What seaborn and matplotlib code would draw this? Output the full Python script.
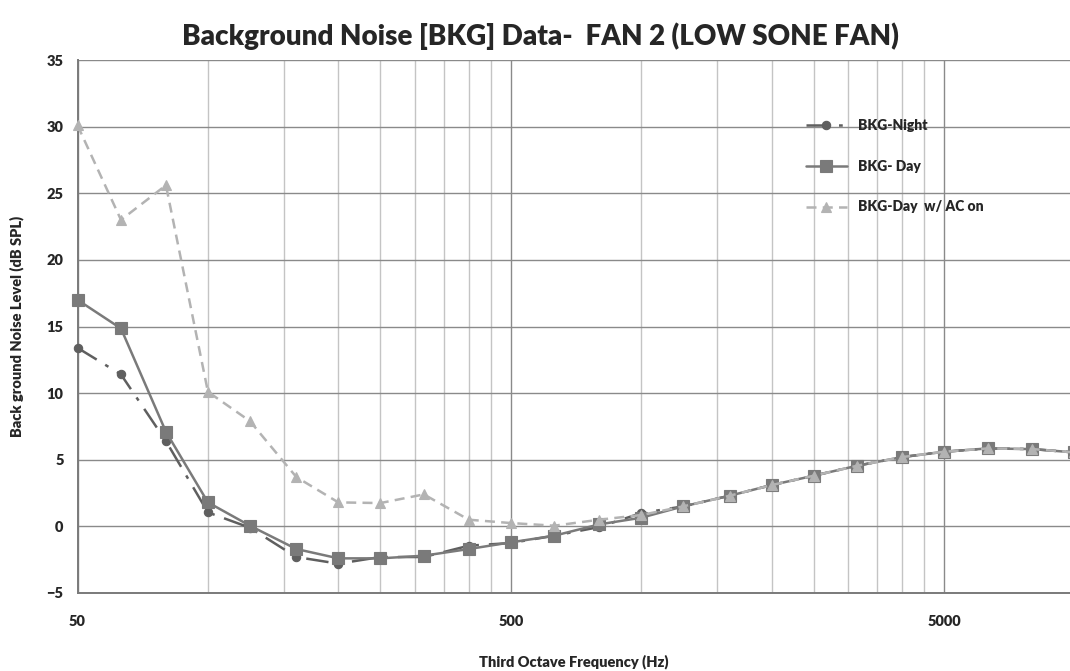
import numpy as np
import pandas as pd
import matplotlib
matplotlib.use("Agg")
import matplotlib.pyplot as plt
from matplotlib.ticker import FixedLocator, NullFormatter
import seaborn as sns

# Third-octave band centre frequencies (Hz)
freq = [50, 63, 80, 100, 125, 160, 200, 250, 315, 400, 500, 630, 800,
        1000, 1250, 1600, 2000, 2500, 3150, 4000, 5000, 6300, 8000, 10000]

# Background noise levels (dB SPL)
bkg_night = [13.4, 11.4, 6.4, 1.05, -0.1, -2.3, -2.8, -2.3, -2.3, -1.45, -1.25,
             -0.7, -0.05, 1.0, 1.5, 2.3, 3.1, 3.8, 4.55, 5.2, 5.6, 5.85, 5.8, 5.55]
bkg_day = [17.0, 14.85, 7.1, 1.8, 0.05, -1.7, -2.4, -2.4, -2.2, -1.7, -1.2,
           -0.7, 0.15, 0.65, 1.5, 2.3, 3.1, 3.8, 4.55, 5.2, 5.6, 5.85, 5.8, 5.55]
bkg_day_ac = [30.1, 23.0, 25.6, 10.1, 7.9, 3.7, 1.8, 1.75, 2.4, 0.5, 0.25,
              0.05, 0.5, 0.85, 1.5, 2.3, 3.1, 3.8, 4.55, 5.2, 5.6, 5.85, 5.8, 5.55]

series_names = ["BKG-Night", "BKG- Day", "BKG-Day  w/ AC on"]

df = pd.DataFrame({
    "freq": freq * 3,
    "level": bkg_night + bkg_day + bkg_day_ac,
    "series": np.repeat(series_names, len(freq)),
})

sns.set_style("white")
plt.rcParams["font.family"] = ["Lato", "DejaVu Sans"]
plt.rcParams["font.weight"] = "bold"

fig = plt.figure(figsize=(10.70, 6.71), dpi=100)
ax = fig.add_axes([77.5 / 1070, 1 - 593 / 671, 1 - 77.5 / 1070, (593 - 60) / 671])

styles = {
    "BKG-Night": dict(color="#5f5f5f", marker="o", ms=6, ls=(0, (9, 4, 1.5, 4)), lw=1.8),
    "BKG- Day": dict(color="#7a7a7a", marker="s", ms=8, ls="-", lw=1.8),
    "BKG-Day  w/ AC on": dict(color="#b3b3b3", marker="^", ms=6.5, ls=(0, (4, 2.5)), lw=1.8),
}

for name in series_names:
    st = styles[name]
    sub = df[df["series"] == name]
    sns.lineplot(data=sub, x="freq", y="level", ax=ax, label=name,
                 color=st["color"], marker=st["marker"], markersize=st["ms"],
                 linestyle=st["ls"], linewidth=st["lw"],
                 markeredgecolor=st["color"], markeredgewidth=0.8,
                 estimator=None, clip_on=False, zorder=3)

ax.set_xscale("log")
ax.set_xlim(50, 9765)
ax.set_ylim(-5, 35)

major_x = [50, 500, 5000]
minor_x = [m * k for m in (50, 500) for k in range(2, 10)]
ax.xaxis.set_major_locator(FixedLocator(major_x))
ax.xaxis.set_minor_locator(FixedLocator(minor_x))
ax.set_xticklabels([str(v) for v in major_x])
ax.xaxis.set_minor_formatter(NullFormatter())
ax.set_yticks(np.arange(-5, 36, 5))

ax.grid(True, which="major", axis="y", color="#8a8a8a", lw=1.0)
ax.grid(True, which="major", axis="x", color="#8a8a8a", lw=1.0)
ax.grid(True, which="minor", axis="x", color="#c4c4c4", lw=1.0)
ax.set_axisbelow(True)

for side in ("top", "right"):
    ax.spines[side].set_visible(False)
for side in ("left", "bottom"):
    ax.spines[side].set_color("#7a7a7a")
    ax.spines[side].set_linewidth(1.4)

ax.tick_params(axis="both", which="major", labelsize=10.5, length=4,
               color="#868686", width=1.0, direction="out")
ax.tick_params(axis="x", which="minor", length=0)
ax.tick_params(axis="x", pad=12)
ax.tick_params(axis="y", pad=6)
for lab in ax.get_xticklabels() + ax.get_yticklabels():
    lab.set_fontweight("heavy")

ax.set_xlabel("Third Octave Frequency (Hz)", fontsize=10.5, fontweight="heavy", labelpad=19)
ax.set_ylabel("Back ground Noise Level (dB SPL)", fontsize=10.5, fontweight="heavy", labelpad=16)

fig.suptitle("Background Noise [BKG] Data-  FAN 2 (LOW SONE FAN)",
             fontsize=20, fontweight="heavy", x=0.505, y=0.966)

leg = ax.legend(loc="upper left", bbox_to_anchor=(0.728, 0.900), frameon=False,
                fontsize=10, handlelength=3.0, labelspacing=2.0, borderaxespad=0)
for t in leg.get_texts():
    t.set_fontweight("heavy")

fig.savefig("out.png", dpi=100)
